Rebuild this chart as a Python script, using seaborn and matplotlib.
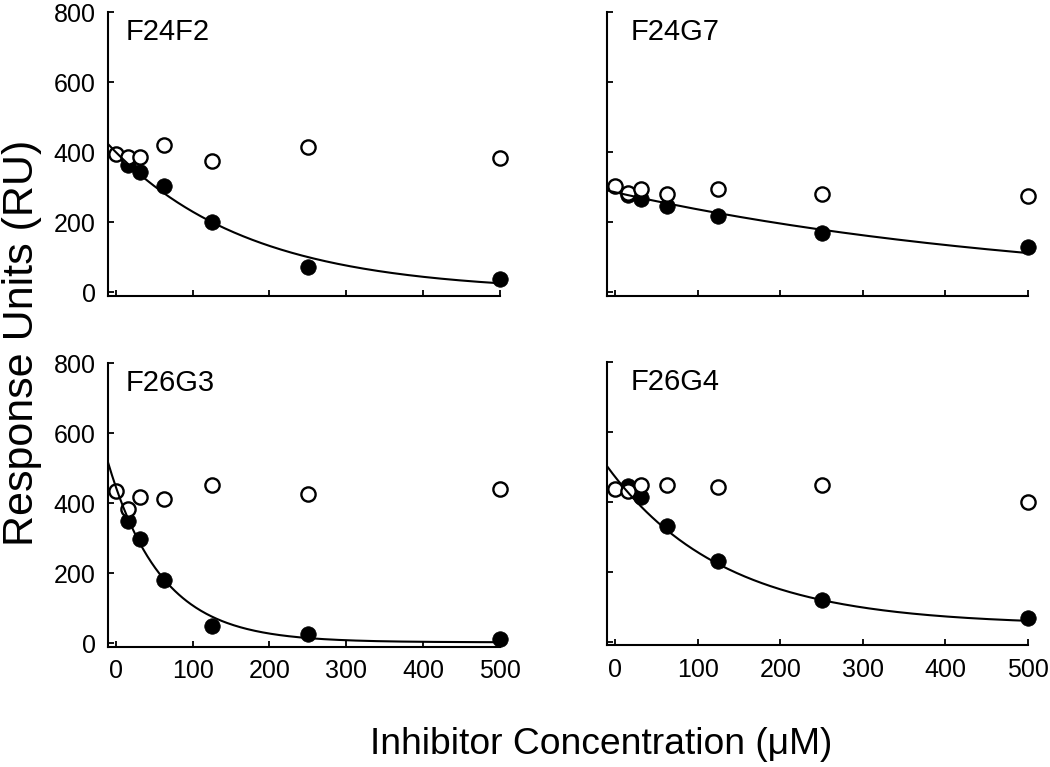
import numpy as np
import pandas as pd
import matplotlib
matplotlib.use("Agg")
import matplotlib.pyplot as plt
import seaborn as sns

# ---------------- data ----------------
conc = [0, 15.6, 31.25, 62.5, 125, 250, 500]
conc_filled = [15.6, 31.25, 62.5, 125, 250, 500]

panels = ["F24F2", "F24G7", "F26G3", "F26G4"]

open_F24F2 = [394, 387, 387, 420, 375, 415, 382]
filled_F24F2 = [363, 344, 303, 201, 72, 36]

open_F24G7 = [303, 284, 295, 281, 295, 281, 274]
filled_F24G7 = [276, 265, 245, 217, 169, 130]

open_F26G3 = [433, 384, 416, 412, 452, 427, 441]
filled_F26G3 = [349, 298, 181, 50, 27, 11]

open_F26G4 = [437, 430, 446, 448, 441, 446, 398]
filled_F26G4 = [445, 413, 329, 229, 119, 66]

# single-exponential fit parameters  y = A*exp(-k*x) + C
fit_A = [400, 285, 445, 423]
fit_k = [0.00555, 0.00188, 0.0144, 0.0071]
fit_C = [0, 0, 2, 47]

open_vals = [open_F24F2, open_F24G7, open_F26G3, open_F26G4]
filled_vals = [filled_F24F2, filled_F24G7, filled_F26G3, filled_F26G4]

x_ticks = [0, 100, 200, 300, 400, 500]
y_ticks = [0, 200, 400, 600, 800]

# ---------------- style ----------------
sns.set_theme(style="ticks")
plt.rcParams["font.family"] = ["Liberation Sans", "DejaVu Sans"]

fig = plt.figure(figsize=(10.5, 7.67), dpi=100)

positions = [
    [0.1029, 0.6147, 0.3733, 0.3696],
    [0.5781, 0.6147, 0.4010, 0.3696],
    [0.1029, 0.1571, 0.3733, 0.3696],
    [0.5781, 0.1590, 0.4010, 0.3696],
]

for i, name in enumerate(panels):
    ax = fig.add_axes(positions[i])
    df_open = pd.DataFrame({"x": conc, "y": open_vals[i]})
    df_fill = pd.DataFrame({"x": conc_filled, "y": filled_vals[i]})
    xs = np.linspace(-10, 500, 300)
    df_fit = pd.DataFrame({"x": xs, "y": fit_A[i] * np.exp(-fit_k[i] * xs) + fit_C[i]})

    sns.scatterplot(data=df_fill, x="x", y="y", ax=ax, s=125, color="black",
                    edgecolor="black", linewidth=0.5, zorder=3, clip_on=False)
    sns.scatterplot(data=df_open, x="x", y="y", ax=ax, s=105, facecolor="white",
                    edgecolor="black", linewidth=1.7, zorder=4, clip_on=False)
    sns.lineplot(data=df_fit, x="x", y="y", ax=ax, color="black", linewidth=1.5,
                 zorder=5)

    ax.set_xlim(-10, 500)
    ax.set_ylim(-10, 800)
    ax.set_xticks(x_ticks)
    ax.set_yticks(y_ticks)
    ax.set_xlabel("")
    ax.set_ylabel("")
    sns.despine(ax=ax)
    for sp in ["left", "bottom"]:
        ax.spines[sp].set_linewidth(1.5)
        ax.spines[sp].set_color("black")
    ax.tick_params(direction="in", length=4, width=1.3, colors="black",
                   labelsize=18, pad=9)
    if i in (0, 1):
        ax.tick_params(axis="x", labelbottom=False)
    if i in (1, 3):
        ax.tick_params(axis="y", labelleft=False)
    ax.text(0.046 if i in (0, 2) else 0.055, 0.90, name, transform=ax.transAxes,
            fontsize=21, color="black", va="baseline", ha="left")

fig.text(22 / 1050, 1 - 343 / 767, "Response Units (RU)", rotation=90,
         fontsize=31, ha="center", va="center", color="black")
fig.text(601 / 1050, 1 - 745 / 767, "Inhibitor Concentration (\u03bcM)",
         fontsize=26.8, ha="center", va="center", color="black")

fig.savefig("out.png", dpi=100)
